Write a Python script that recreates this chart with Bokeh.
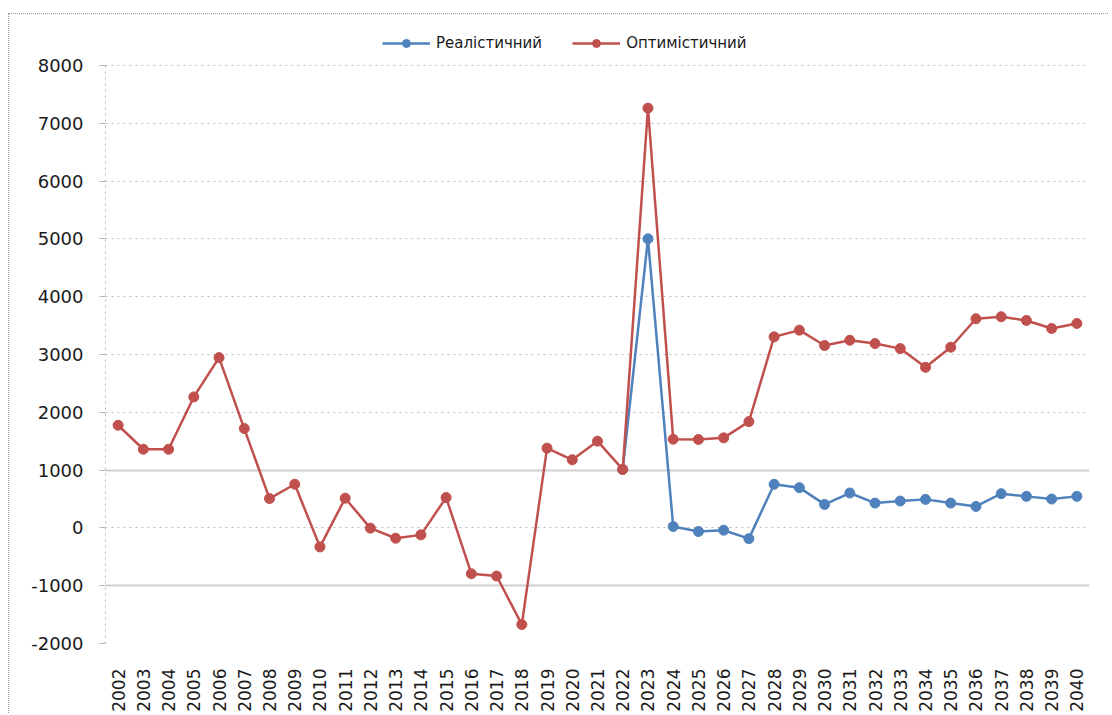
from bokeh.plotting import figure
from bokeh.models import (ColumnDataSource, FactorRange, FixedTicker, Grid, Legend,
                          LegendItem, PrintfTickFormatter)
from bokeh.embed import file_html
from bokeh.resources import INLINE
import math

# ---------------- data ----------------
years = [str(y) for y in range(2002, 2041)]

optimistic = [1775, 1360, 1360, 2265, 2945, 1718, 507, 755, -329, 513,
              -5, -179, -121, 524, -793, -833, -1672, 1379, 1178, 1500,
              1011, 7260, 1534, 1529, 1557, 1838, 3304, 3420, 3154, 3246,
              3188, 3101, 2777, 3125, 3617, 3652, 3588, 3449, 3536]

real_years = [str(y) for y in range(2022, 2041)]
realistic = [1011, 5000, 23, -63, -40, -186, 754, 696, 406, 603,
             429, 464, 493, 429, 371, 591, 545, 499, 545]

y_ticks = [-2000, -1000, 0, 1000, 2000, 3000, 4000, 5000, 6000, 7000, 8000]
solid_grid_ticks = [-1000, 1000]
dotted_grid_ticks = [t for t in y_ticks if t not in solid_grid_ticks]

series_names = ["Реалістичний", "Оптимістичний"]
RED = "#C0504D"
BLUE = "#4F81BD"
FONT = "DejaVu Sans"

# ---------------- figure ----------------
# the frame extends a bit above 8000 so the legend can sit inside it
p = figure(width=1100, height=700, output_backend="svg", toolbar_location=None,
           x_range=FactorRange(factors=years, range_padding=0),
           y_range=(-2000, 8690),
           min_border_left=96, min_border_right=20, min_border_top=11,
           min_border_bottom=66)
p.styles = {"border-top": "1px dotted #9a9a9a", "border-left": "1px dotted #9a9a9a",
            "margin-top": "13px", "margin-left": "8px"}
p.outline_line_color = None
p.background_fill_color = "white"
p.border_fill_color = "white"

src_o = ColumnDataSource(dict(x=years, y=optimistic))
src_r = ColumnDataSource(dict(x=real_years, y=realistic))

lr = p.line("x", "y", source=src_r, color=BLUE, line_width=2.5)
cr = p.scatter("x", "y", source=src_r, color=BLUE, size=10)
lo = p.line("x", "y", source=src_o, color=RED, line_width=2.5)
co = p.scatter("x", "y", source=src_o, color=RED, size=10)

# grids
p.xgrid.grid_line_color = None
p.ygrid.ticker = FixedTicker(ticks=dotted_grid_ticks)
p.ygrid.grid_line_color = "#bdbdbd"
p.ygrid.grid_line_dash = "dotted"
p.ygrid.grid_line_width = 1
solid = Grid(dimension=1, ticker=FixedTicker(ticks=solid_grid_ticks),
             grid_line_color="#cfcfcf", grid_line_width=2)
p.add_layout(solid)

# y axis
p.yaxis.ticker = FixedTicker(ticks=y_ticks)
p.yaxis.formatter = PrintfTickFormatter(format="%d")
p.yaxis.bounds = (y_ticks[0], y_ticks[-1])
p.yaxis.axis_line_color = "#b5b5b5"
p.yaxis.axis_line_dash = "dotted"
p.yaxis.major_tick_line_color = "#b5b5b5"
p.yaxis.major_tick_out = 6
p.yaxis.major_tick_in = 0
p.yaxis.minor_tick_line_color = None
p.yaxis.major_label_standoff = 16
p.yaxis.major_label_text_font = FONT
p.yaxis.major_label_text_font_size = "18px"
p.yaxis.major_label_text_color = "#1a1a1a"

# x axis
p.xaxis.axis_line_color = None
p.xaxis.major_tick_line_color = None
p.xaxis.minor_tick_line_color = None
p.xaxis.major_label_orientation = math.pi / 2
p.xaxis.major_label_standoff = 19
p.xaxis.major_label_text_font = FONT
p.xaxis.major_label_text_font_size = "17px"
p.xaxis.major_label_text_color = "#1a1a1a"

# legend (inside the extended frame, above the 8000 line)
legend = Legend(items=[LegendItem(label=series_names[0], renderers=[lr, cr]),
                       LegendItem(label=series_names[1], renderers=[lo, co])],
                orientation="horizontal", location=(277, 590),
                label_text_font=FONT, label_text_font_size="15px",
                label_text_color="#1a1a1a", glyph_width=48, spacing=30,
                label_standoff=6, border_line_color=None,
                background_fill_alpha=0, padding=2, margin=0)
p.add_layout(legend, "center")

open("out.html", "w").write(file_html(p, INLINE))
